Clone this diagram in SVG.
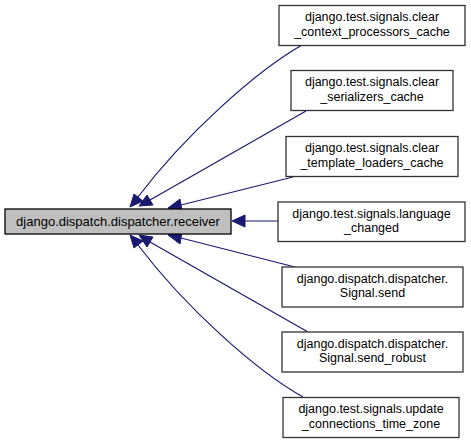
<svg xmlns="http://www.w3.org/2000/svg" width="471" height="444" viewBox="0 0 471 444">
<style>
.n rect{fill:#fff;stroke:#333;stroke-width:1.3}
.m rect{fill:#bfbfbf;stroke:#000;stroke-width:1.3}
text{font-family:"Liberation Sans",Arial,sans-serif;font-size:12.5px;fill:#000;text-anchor:middle}
.m text{font-size:13px}
.e path{fill:none;stroke:#191970;stroke-width:1.2}
.e polygon{fill:#191970;stroke:#191970;stroke-width:1}
</style>
<rect width="471" height="444" fill="#fff"/>
<g class="e" id="connectors">
<path d="M302,45 C255,72 185,135 138,197"/>
<polygon points="130,207 134,194 143,201"/>
<path d="M306,111 L150,200"/>
<polygon points="139,206 147,195 153,205"/>
<path d="M293,177 L181,205"/>
<polygon points="168,208 180,199 182,211"/>
<path d="M278,221 L245,221"/>
<polygon points="232,221 245,215 245,227"/>
<path d="M295,267 L181,238"/>
<polygon points="168,235 182,232 180,244"/>
<path d="M308,332 L150,242"/>
<polygon points="139,235 153,237 147,247"/>
<path d="M303,397 C255,370 185,307 138,245"/>
<polygon points="130,235 143,241 134,248"/>
</g>
<g class="m" id="receiver"><rect x="5" y="209" width="226" height="25"/><text x="118" y="226">django.dispatch.dispatcher.receiver</text></g>
<g class="n" id="n1"><rect x="279" y="5.5" width="186" height="40"/><text x="372" y="21">django.test.signals.clear</text><text x="372" y="35.5">_context_processors_cache</text></g>
<g class="n" id="n2"><rect x="291" y="70.5" width="162" height="40"/><text x="372" y="86">django.test.signals.clear</text><text x="372" y="100.5">_serializers_cache</text></g>
<g class="n" id="n3"><rect x="286" y="136.5" width="172" height="40"/><text x="372" y="152">django.test.signals.clear</text><text x="372" y="166.5">_template_loaders_cache</text></g>
<g class="n" id="n4"><rect x="278" y="202" width="187" height="39.5"/><text x="371.5" y="217.5">django.test.signals.language</text><text x="371.5" y="232">_changed</text></g>
<g class="n" id="n5"><rect x="282" y="267" width="181" height="40"/><text x="372.5" y="282.5">django.dispatch.dispatcher.</text><text x="372.5" y="297">Signal.send</text></g>
<g class="n" id="n6"><rect x="282" y="332" width="181" height="40"/><text x="372.5" y="347.5">django.dispatch.dispatcher.</text><text x="372.5" y="362">Signal.send_robust</text></g>
<g class="n" id="n7"><rect x="283" y="397.5" width="176" height="40"/><text x="371" y="413">django.test.signals.update</text><text x="371" y="427.5">_connections_time_zone</text></g>
</svg>
